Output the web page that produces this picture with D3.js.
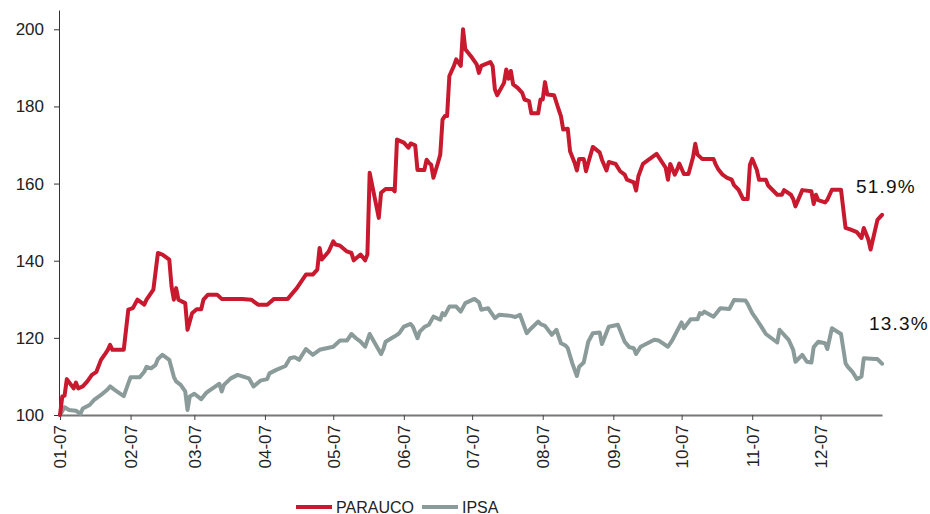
<!DOCTYPE html>
<html>
<head>
<meta charset="utf-8">
<script src="https://cdn.jsdelivr.net/npm/d3@7"></script>
<style>
  body { margin: 0; background: #fff; }
  svg { display: block; font-family: "Liberation Sans", Arial, sans-serif; }
</style>
</head>
<body>
<div id="chart"></div>
<script>
// month tick labels (MM-YY)
const monthLabels = ["01-07","02-07","03-07","04-07","05-07","06-07","07-07","08-07","09-07","10-07","11-07","12-07"];
const yTicks = [100, 120, 140, 160, 180, 200];

const seriesNames = ["PARAUCO", "IPSA"];
const endLabels = ["51.9%", "13.3%"];

// base 100, 2007 (MM-DD, value)
const parauco = [
  ["01-01",100],["01-02",104.8],["01-03",105],["01-04",109.3],["01-07",106.9],["01-08",108.4],["01-09",106.9],["01-11",107.4],["01-13",108.7],["01-15",110.4],["01-17",111.2],["01-19",114.3],["01-21",116],["01-22",116.9],["01-23",118.2],["01-24",116.9],["01-29",116.9],["01-31",127.3],
  ["02-02",127.7],["02-04",129.9],["02-07",128.6],["02-08",129.9],["02-11",132.5],["02-13",142],["02-15",141.6],["02-18",140.3],["02-19",133.3],["02-20",129.9],["02-21",132.9],["02-22",129.9],["02-25",129],["02-26",122.1],["02-28",126.4],
  ["03-02",127.4],["03-04",127.4],["03-05",129.9],["03-07",131.2],["03-11",131.2],["03-13",130.1],["03-22",130.1],["03-26",129.9],["03-29",128.6],
  ["04-02",128.6],["04-05",130.1],["04-11",130.1],["04-15",132.9],["04-19",136.4],["04-22",136.4],["04-24",137.7],["04-25",143.3],["04-26",140.3],["04-29",142.4],
  ["05-01",145],["05-02",144.2],["05-04",143.9],["05-07",142.4],["05-09",142],["05-10",140.1],["05-13",141.6],["05-15",140.1],["05-16",141.6],["05-17",162.8],["05-21",151.1],["05-22",157.6],["05-24",158.6],["05-27",158.6],["05-28",158],["05-29",171.4],
  ["06-01",170.6],["06-03",169.3],["06-04",170.4],["06-06",169.9],["06-07",163.5],["06-10",163.5],["06-11",166.2],["06-12",165.4],["06-13",164.9],["06-14",161.5],["06-16",165.4],["06-17",167.5],["06-18",176.6],["06-19",177.5],["06-20",177.5],["06-21",187.9],["06-23",190.5],["06-24",192.2],["06-26",190.5],["06-27",200],["06-28",194.8],
  ["07-01",192.6],["07-03",190.9],["07-04",188.7],["07-05",190.5],["07-09",191.5],["07-10",190.5],["07-11",184.4],["07-12",182.9],["07-15",186.1],["07-16",189.6],["07-17",187.2],["07-18",189.2],["07-19",185.7],["07-21",184.8],["07-23",183.5],["07-24",181.8],["07-26",181.4],["07-27",178.2],["07-30",178.2],["07-31",181.8],
  ["08-01",181.8],["08-02",186.3],["08-03",183.1],["08-06",182.9],["08-08",179.2],["08-09",177.5],["08-10",174],["08-12",174.2],["08-13",168.4],["08-15",165.4],["08-16",163.4],["08-17",166.4],["08-19",166.4],["08-20",163.2],["08-21",165.4],["08-23",169.5],["08-26",168.1],["08-27",166.2],["08-29",163.4],["08-30",165.6],
  ["09-02",165.1],["09-04",163.2],["09-06",162.3],["09-07",161],["09-10",160.3],["09-11",158.2],["09-12",161.9],["09-14",165.1],["09-20",167.7],["09-24",164.1],["09-25",161],["09-26",165.1],["09-28",162.3],["09-29",163.6],["09-30",165.2],
  ["10-02",162.5],["10-04",162.5],["10-06",166.8],["10-07",170.3],["10-08",167.5],["10-10",166.4],["10-15",166.4],["10-16",164.9],["10-17",163.8],["10-19",162.3],["10-21",161.5],["10-23",161],["10-24",159.6],["10-26",158.4],["10-28",156],["10-30",156],["10-31",164.9],
  ["11-01",166.4],["11-03",163.6],["11-04",161],["11-07",161],["11-08",159.5],["11-12",157.1],["11-14",157.1],["11-15",158.3],["11-18",157.1],["11-19",156],["11-20",154.1],["11-23",158.3],["11-27",158],["11-28",154.7],["11-29",157.1],["11-30",155.7],
  ["12-03",155.1],["12-04",155.8],["12-06",158.4],["12-10",158.4],["12-12",148.5],["12-14",148.1],["12-17",147.4],["12-19",145.9],["12-20",148.5],["12-22",145.5],["12-23",142.9],["12-26",150.6],["12-28",151.9]
];

const ipsa = [
  ["01-01",100],["01-03",102],["01-05",101.3],["01-08",101.1],["01-10",100.3],["01-11",101.7],["01-14",102.6],["01-16",103.9],["01-19",105.2],["01-22",106.7],["01-23",107.4],["01-25",106.5],["01-29",104.9],["01-31",108.2],
  ["02-01",109.8],["02-05",109.8],["02-07",111.2],["02-08",112.5],["02-10",112.1],["02-12",113],["02-13",114.5],["02-15",115.6],["02-18",114.3],["02-20",109.9],["02-21",108.7],["02-23",107.8],["02-25",106.1],["02-26",101.3],["02-27",104.8],
  ["03-01",105.5],["03-04",104.1],["03-06",105.6],["03-07",106.1],["03-09",106.9],["03-12",108.1],["03-13",106.1],["03-14",107.8],["03-17",109.5],["03-20",110.4],["03-25",109.5],["03-27",107.4],["03-30",108.9],
  ["04-02",109.3],["04-03",110.8],["04-06",111.7],["04-10",112.7],["04-12",114.7],["04-14",115],["04-16",114.3],["04-19",117.1],["04-22",115.6],["04-25",116.9],
  ["05-01",117.7],["05-04",119.3],["05-07",119.3],["05-09",121],["05-11",119.9],["05-13",119],["05-15",117.7],["05-17",121],["05-22",115.8],["05-23",117.1],["05-24",119],["05-28",120.4],["05-30",121.2],
  ["06-01",122.9],["06-04",123.6],["06-05",122.9],["06-07",119.9],["06-08",121.6],["06-10",122.8],["06-12",123.4],["06-14",125.5],["06-17",124.7],["06-18",126.4],["06-19",125.9],["06-21",128.1],["06-24",128.1],["06-26",126.8],["06-28",129],
  ["07-02",130.1],["07-04",129.2],["07-05",127.3],["07-08",127.7],["07-11",125.1],["07-13",126],["07-18",125.7],["07-20",125.4],["07-22",126],["07-25",121.2],["07-27",122.5],["07-30",124.2],["07-31",123.6],
  ["08-02",123.1],["08-05",120.8],["08-07",122.1],["08-09",118.6],["08-11",118],["08-12",117.3],["08-14",113.4],["08-16",110.1],["08-17",112.5],["08-19",113.6],["08-21",119],["08-23",121.2],["08-26",121.4],["08-27",118.4],["08-30",122.9],
  ["09-03",123.4],["09-06",119],["09-08",117.6],["09-10",117.3],["09-11",115.8],["09-13",117.7],["09-19",119.5],["09-21",119.3],["09-25",117.7],["09-27",119.5],
  ["10-01",124],["10-02",122.5],["10-05",124.8],["10-08",124.8],["10-09",126.4],["10-10",126.2],["10-11",126.8],["10-15",125.5],["10-18",127.7],["10-22",127.5],["10-24",129.8],["10-29",129.7],["10-30",128.8],
  ["11-01",126.4],["11-03",124.7],["11-05",122.9],["11-07",121],["11-12",118.8],["11-13",122.1],["11-17",119.5],["11-19",116.9],["11-20",113.8],["11-23",115.6],["11-25",113.8],["11-27",113.6],["11-28",117.6],["11-30",119],
  ["12-03",118.6],["12-04",117.1],["12-06",122.5],["12-10",121],["12-12",113.4],["12-13",112.5],["12-15",111.2],["12-17",109.3],["12-19",110],["12-20",114.7],["12-25",114.5],["12-26",114.5],["12-28",113.3]
];

const width = 930, height = 514;
const margin = {top: 10, right: 48, bottom: 99, left: 60};

const parseDay = d3.timeParse("%Y-%m-%d");
const parseMonth = d3.timeParse("%m-%y");
const toPoints = arr => arr.map(([d, v]) => ({date: parseDay("2007-" + d), value: v}));

const series = [
  {name: seriesNames[0], label: endLabels[0], color: "#c8192f", points: toPoints(parauco), dx: -26, dy: -22},
  {name: seriesNames[1], label: endLabels[1], color: "#8a9b9a", points: toPoints(ipsa), dx: -13, dy: -34}
];

const svg = d3.select("#chart").append("svg")
    .attr("width", width)
    .attr("height", height);

const x = d3.scaleTime()
    .domain([parseDay("2007-01-01"), parseDay("2007-12-28")])
    .range([margin.left, width - margin.right]);

const y = d3.scaleLinear()
    .domain([100, 205])
    .range([height - margin.bottom, margin.top]);

// y axis
const yAxis = svg.append("g")
    .attr("transform", `translate(${margin.left - 1},0)`)
    .call(d3.axisLeft(y).tickValues(yTicks).tickSize(5).tickPadding(10).tickSizeOuter(0));
yAxis.select(".domain").attr("stroke", "#333");
yAxis.selectAll(".tick line").attr("stroke", "#333");
yAxis.selectAll("text").attr("font-size", 17).attr("fill", "#222")
    .attr("font-family", "'Liberation Sans', Arial, sans-serif");

// x axis
const xAxis = svg.append("g")
    .attr("transform", `translate(0,${height - margin.bottom})`)
    .call(d3.axisBottom(x)
      .tickValues(monthLabels.map(m => parseMonth(m)))
      .tickFormat((d, i) => monthLabels[i])
      .tickSize(5).tickSizeOuter(0));
xAxis.select(".domain").attr("stroke", "#777").attr("stroke-width", 2);
xAxis.selectAll(".tick line").attr("stroke", "#444");
xAxis.selectAll("text")
    .attr("font-size", 17).attr("fill", "#222")
    .attr("font-family", "'Liberation Sans', Arial, sans-serif")
    .attr("transform", "rotate(-90)")
    .attr("text-anchor", "end")
    .attr("x", -10).attr("y", 0).attr("dy", "0.35em");

// lines (IPSA under PARAUCO)
const line = d3.line().x(d => x(d.date)).y(d => y(d.value));
svg.selectAll(".series")
  .data(series.slice().reverse())
  .join("path")
    .attr("class", "series")
    .attr("d", d => line(d.points))
    .attr("fill", "none")
    .attr("stroke", d => d.color)
    .attr("stroke-width", 4)
    .attr("stroke-linejoin", "round")
    .attr("stroke-linecap", "round");

// end-of-period labels
svg.selectAll(".end-label")
  .data(series)
  .join("text")
    .attr("class", "end-label")
    .attr("x", d => x(d.points[d.points.length - 1].date) + d.dx)
    .attr("y", d => y(d.points[d.points.length - 1].value) + d.dy)
    .attr("font-size", 19)
    .attr("letter-spacing", 1.2)
    .attr("fill", "#111")
    .text(d => d.label);

// legend
const legend = svg.append("g").attr("transform", "translate(296,507)");
const legendX = [0, 126];
const item = legend.selectAll("g")
  .data(series)
  .join("g")
    .attr("transform", (d, i) => `translate(${legendX[i]},0)`);
item.append("line")
    .attr("x1", 0).attr("x2", 36)
    .attr("stroke", d => d.color)
    .attr("stroke-width", 4);
item.append("text")
    .attr("x", 40).attr("y", 5.5)
    .attr("font-size", 16)
    .attr("fill", "#222")
    .text(d => d.name);
</script>
</body>
</html>
